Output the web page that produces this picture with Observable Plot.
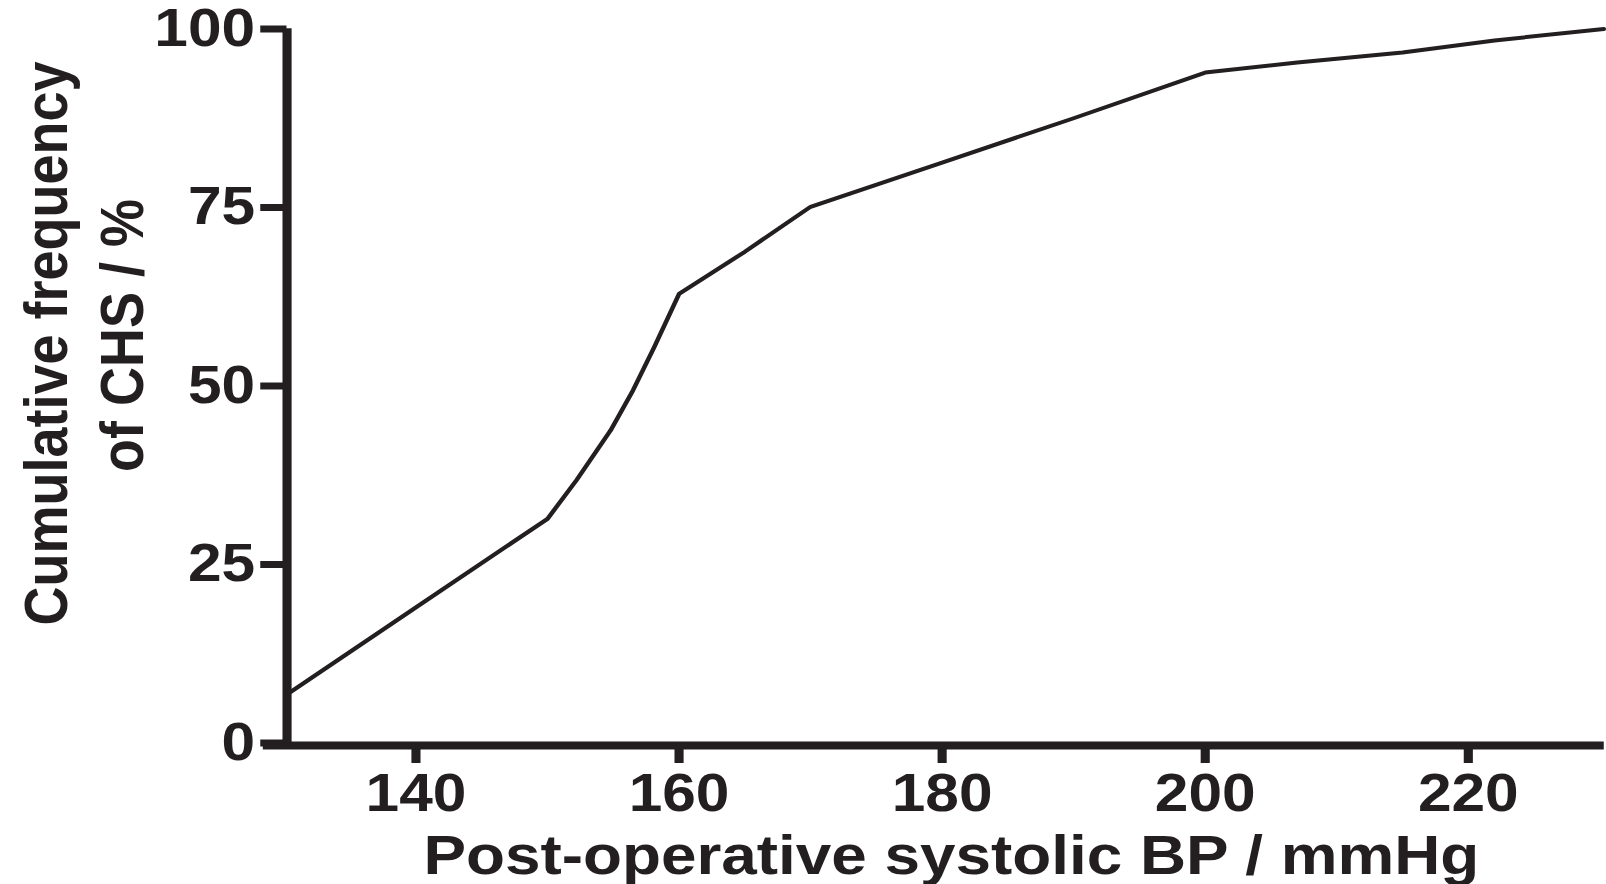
<!DOCTYPE html>
<html>
<head>
<meta charset="utf-8">
<script src="https://cdn.jsdelivr.net/npm/d3@7"></script>
<script src="https://cdn.jsdelivr.net/npm/@observablehq/plot@0.6"></script>
<style>
  html, body { margin: 0; padding: 0; background: #fff; overflow: hidden; }
  #chart { width: 1409px; transform: scaleX(1.14); transform-origin: 0 0; }
</style>
</head>
<body>
<div id="chart"></div>
<script>
// ---- data ----
const bp   = [130.2, 140, 150, 152.2, 154.8, 156.5, 158.1, 160, 165, 170, 180, 190, 200, 207, 215, 222, 230.3];
const freq = [6.8,   19.0, 31.4, 36.8, 43.8, 49.4, 55.4, 62.9, 68.8, 75.1, 81.3, 87.5, 93.9, 95.3, 96.7, 98.4, 100];
const xTicks = [140, 160, 180, 200, 220];
const yTicks = [0, 25, 50, 75, 100];
const xTitle = "Post-operative systolic BP / mmHg";
const yTitles = ["Cumulative frequency", "of CHS / %"];
const xAxisSpan = [128.4, 230.34];   // extent of the x-axis line
const yAxisAt = [130.2];             // where the y-axis line sits
const yAxisSpan = [-0.9, 100.05];

const ink = "#231f20";
const W = 1409, H = 884;
const data = bp.map((x, i) => ({x, y: freq[i]}));

const chart = Plot.plot({
  width: W, height: H,
  marginLeft: 251.3, marginRight: W - 1406.8, marginTop: 28.5, marginBottom: H - 742.5,
  x: {domain: [130.2, 230.34]},
  y: {domain: [0, 100]},
  style: {fontFamily: "'Liberation Sans', Arial, sans-serif", fontWeight: "bold", color: ink, background: "#fff", overflow: "visible"},
  marks: [
    Plot.axisX(xTicks, {tickSize: 20.5, tickPadding: 10, strokeWidth: 8, stroke: ink, fill: ink, fontSize: 53, fontWeight: "bold", label: null}),
    Plot.axisY(yTicks, {tickSize: 23, tickPadding: 5, strokeWidth: 7, stroke: ink, fill: ink, fontSize: 53, fontWeight: "bold", label: null}),
    Plot.ruleY([-0.35], {x1: xAxisSpan[0], x2: xAxisSpan[1], stroke: ink, strokeWidth: 8}),
    Plot.ruleX(yAxisAt, {y1: yAxisSpan[0], y2: yAxisSpan[1], stroke: ink, strokeWidth: 8}),
    Plot.line(data, {x: "x", y: "y", stroke: ink, strokeWidth: 4, strokeLinejoin: "round"}),
    Plot.text([xTitle], {frameAnchor: "bottom", lineAnchor: "bottom", textAnchor: "middle", dx: 5, dy: 130.5, fontSize: 56, fontWeight: "bold", fill: ink}),
    Plot.text([yTitles[0]], {frameAnchor: "left", rotate: -90, lineAnchor: "bottom", textAnchor: "middle", dx: -193, dy: -42.5, fontSize: 54, fontWeight: "bold", fill: ink}),
    Plot.text([yTitles[1]], {frameAnchor: "left", rotate: -90, lineAnchor: "bottom", textAnchor: "middle", dx: -126, dy: -50.5, fontSize: 54, fontWeight: "bold", fill: ink})
  ]
});
document.getElementById("chart").appendChild(chart);
</script>
</body>
</html>
